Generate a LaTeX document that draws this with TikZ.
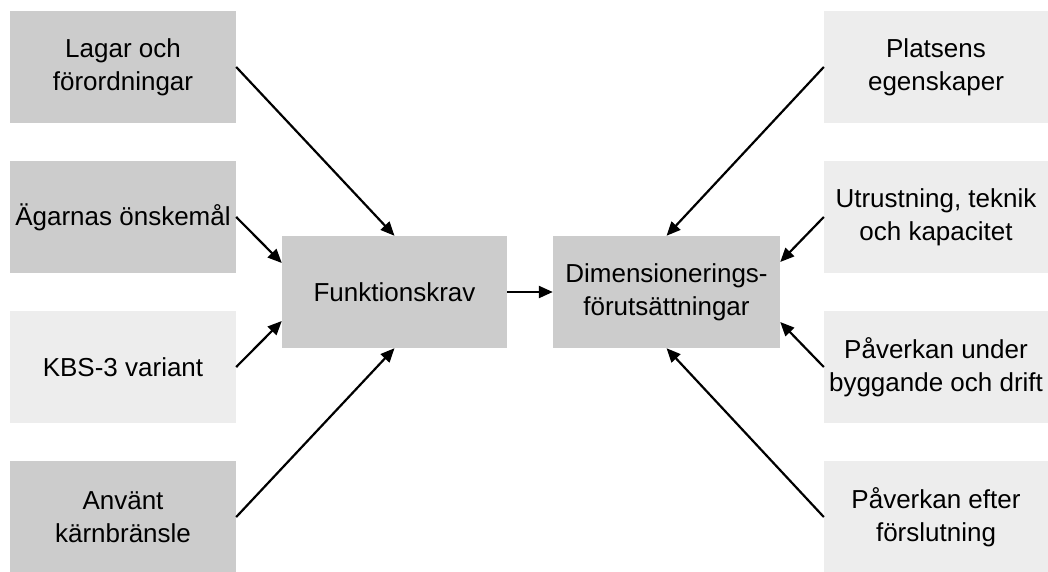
\documentclass[tikz,border=0pt]{standalone}
\usepackage{fontspec}
\setmainfont{Liberation Sans}
\usetikzlibrary{arrows.meta}
\begin{document}
\begin{tikzpicture}[x=1pt,y=-1pt,
  darkbox/.style={rectangle,fill=black!20,inner sep=0pt,minimum width=226pt,minimum height=112pt,align=center,font=\fontsize{26}{33}\selectfont},
  lightbox/.style={darkbox,fill=black!7},
  link/.style={line width=2.2pt,-{Triangle[length=14pt,width=12pt]}}]
\useasboundingbox (0,0) rectangle (1048,572);
% inputs to the functional requirements
\node[darkbox]  (lagar) at (123,67)  {Lagar och\\förordningar};
\node[darkbox]  (agar)  at (123,217) {Ägarnas önskemål};
\node[lightbox] (kbs)   at (123,367) {KBS-3 variant};
\node[darkbox]  (bransle) at (123,517) {Använt\\kärnbränsle};
% central chain
\node[darkbox,minimum width=225pt]  (funk) at (394.5,292) {Funktionskrav};
\node[darkbox,minimum width=227pt]  (dim)  at (666.5,292) {Dimensionerings-\\förutsättningar};
% inputs to the design premises
\node[lightbox,minimum width=224pt] (plats) at (936,67)  {Platsens\\egenskaper};
\node[lightbox,minimum width=224pt] (utr)   at (936,217) {Utrustning, teknik\\och kapacitet};
\node[lightbox,minimum width=224pt] (bygg)  at (936,367) {Påverkan under\\byggande och drift};
\node[lightbox,minimum width=224pt] (forsl) at (936,517) {Påverkan efter\\förslutning};
% connectors
\draw[link] (lagar.east) -- (funk.north);
\draw[link] (agar.east) -- ([yshift=29pt]funk.west);
\draw[link] (kbs.east) -- ([yshift=-29pt]funk.west);
\draw[link] (bransle.east) -- (funk.south);
\draw[link] (funk.east) -- (dim.west);
\draw[link] (plats.west) -- (dim.north);
\draw[link] (utr.west) -- ([yshift=30pt]dim.east);
\draw[link] (bygg.west) -- ([yshift=-30pt]dim.east);
\draw[link] (forsl.west) -- (dim.south);
\end{tikzpicture}
\end{document}
